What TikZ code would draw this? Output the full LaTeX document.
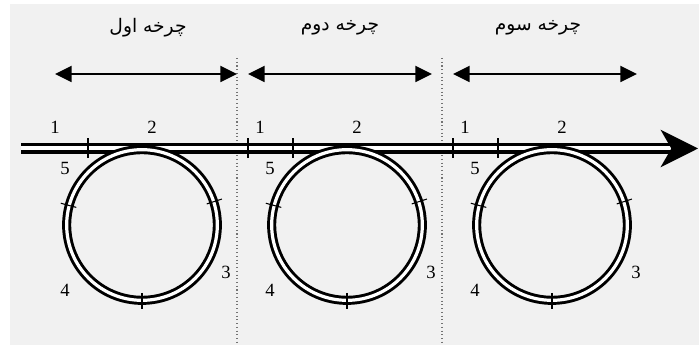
\documentclass[tikz,border=0pt]{standalone}
\usepackage{fontspec}
\setmainfont{Liberation Serif}
\newfontfamily\farsifont[Script=Arabic]{DejaVu Sans}
\TeXXeTstate=1
\usepackage{tikz}
\usetikzlibrary{arrows.meta, positioning}
\definecolor{panelgray}{HTML}{F1F1F1}
\tikzstyle{title} = [font=\farsifont\fontsize{14}{16}\selectfont]
\tikzstyle{num} = [font=\fontsize{14}{16}\selectfont, inner sep=0pt]
\tikzstyle{span} = [line width=1.4pt, {Triangle[length=12.5pt,width=12pt]}-{Triangle[length=12.5pt,width=12pt]}]
\tikzstyle{fiber} = [line width=2.4pt, double=white, double distance=3pt, -{Stealth[length=28pt,width=28pt,inset=8pt]}]
\tikzstyle{loop} = [circle, draw, line width=2.2pt, double=white, double distance=2.4pt, minimum size=113pt, inner sep=0pt]
\tikzstyle{tick} = [line width=0.8pt]
\tikzstyle{border} = [black!55, dotted, line width=0.8pt]

\begin{document}
\begin{tikzpicture}[x=0.75pt, y=0.75pt]
        % Background
        \useasboundingbox (0,0) rectangle (699,345);
        \fill[panelgray] (10,0) rectangle (699,341);

        % Borders between cycles
        \draw [border] (237,287) -- (237,0);
        \draw [border] (442,287) -- (442,0);

        % Titles
        \node (t1) [title] at (148,317) {\beginR چرخه اول\endR};
        \node (t2) [title] at (340,317) {\beginR چرخه دوم\endR};
        \node (t3) [title] at (538,317) {\beginR چرخه سوم\endR};

        % Cycle spans
        \coordinate (a1l) at (55,271);  \coordinate (a1r) at (237,271);
        \coordinate (a2l) at (248,271); \coordinate (a2r) at (432,271);
        \coordinate (a3l) at (453,271); \coordinate (a3r) at (637,271);
        \draw [span] (a1l) -- (a1r);
        \draw [span] (a2l) -- (a2r);
        \draw [span] (a3l) -- (a3r);

        % Main fiber
        \coordinate (fstart) at (21,196.5);
        \coordinate (fend) at (698,196.5);
        \draw [fiber] (fstart) -- (fend);

        % Loops
        \node (c1) [loop] at (142,120) {};
        \node (c2) [loop] at (347,120) {};
        \node (c3) [loop] at (552,120) {};

        % Marks on the fiber
        \draw [tick] (88,187) -- (88,207);
        \draw [tick] (248,187) -- (248,207);
        \draw [tick] (293,187) -- (293,207);
        \draw [tick] (453,187) -- (453,207);
        \draw [tick] (498,187) -- (498,207);

        % Marks on the loops
        \draw [tick] (c1.center) ++(165:68) -- ++(165:16);
        \draw [tick] (c1.center) ++(18:68) -- ++(18:16);
        \draw [tick] (c1.center) ++(270:68) -- ++(270:16);
        \draw [tick] (c2.center) ++(165:68) -- ++(165:16);
        \draw [tick] (c2.center) ++(18:68) -- ++(18:16);
        \draw [tick] (c2.center) ++(270:68) -- ++(270:16);
        \draw [tick] (c3.center) ++(165:68) -- ++(165:16);
        \draw [tick] (c3.center) ++(18:68) -- ++(18:16);
        \draw [tick] (c3.center) ++(270:68) -- ++(270:16);

        % Cycle 1 labels
        \node (p11) [num] at (55,218) {1};
        \node (p12) [num] at (152,218) {2};
        \node (p15) [num] at (65,177) {5};
        \node (p14) [num] at (65,55) {4};
        \node (p13) [num] at (226,73) {3};

        % Cycle 2 labels
        \node (p21) [num] at (260,218) {1};
        \node (p22) [num] at (357,218) {2};
        \node (p25) [num] at (270,177) {5};
        \node (p24) [num] at (270,55) {4};
        \node (p23) [num] at (431,73) {3};

        % Cycle 3 labels
        \node (p31) [num] at (465,218) {1};
        \node (p32) [num] at (562,218) {2};
        \node (p35) [num] at (475,177) {5};
        \node (p34) [num] at (475,55) {4};
        \node (p33) [num] at (636,73) {3};
    \end{tikzpicture}
\end{document}
